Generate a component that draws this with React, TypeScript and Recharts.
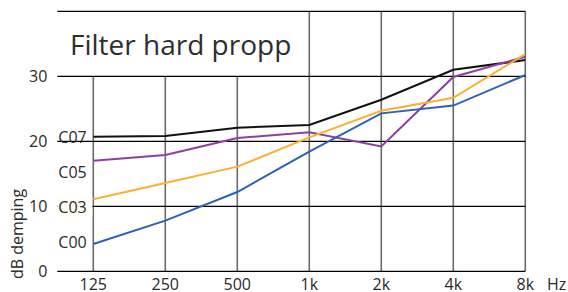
import React from 'react';
import { LineChart, Line, XAxis, YAxis, ReferenceLine } from 'recharts';

const categories = ['125', '250', '500', '1k', '2k', '4k', '8k'];
const c07 = [20.7, 20.8, 22.1, 22.5, 26.4, 31.0, 32.5];
const c05 = [17.0, 17.9, 20.5, 21.4, 19.2, 29.9, 33.0];
const c03 = [11.1, 13.6, 16.1, 20.6, 24.7, 26.7, 33.4];
const c00 = [4.2, 7.8, 12.2, 18.4, 24.3, 25.5, 30.2];
const seriesNames = ['C07', 'C05', 'C03', 'C00'];
const seriesLabelValues = [20.7, 15.3, 9.9, 4.4];
const yTicks = [0, 10, 20, 30];
const gridValues = [0, 10, 20, 30, 40];
const verticalTops = [30, 30, 30, 40, 40, 40, 40];

const colors = ['#111111', '#8e3f9f', '#fbb030', '#2b62b6'];
const FONT = '"Open Sans", sans-serif';

const data = categories.map((c, i) => ({
  i,
  name: c,
  C07: c07[i],
  C05: c05[i],
  C03: c03[i],
  C00: c00[i],
}));

const SeriesLabel = (props: any) => {
  const { viewBox, value, bg } = props;
  const x = viewBox.x;
  const y = viewBox.y;
  return (
    <g>
      {bg && <rect x={x} y={y - 10} width={35} height={20} fill="#fffdf4" />}
      <text x={x + 1} y={y} dy="0.36em" fontFamily={FONT} fontSize={16} fill="#2a2a2a">
        {value}
      </text>
    </g>
  );
};

export default function App() {
  return (
    <div style={{ position: 'absolute', left: 0, top: 0, width: 568, height: 292, background: '#fff' }}>
      <LineChart
        width={568}
        height={292}
        data={data}
        margin={{ top: 11.3, right: 42.7, bottom: 0, left: 7.3 }}
      >
        <XAxis
          dataKey="i"
          type="number"
          domain={[-0.5, 6]}
          ticks={[0, 1, 2, 3, 4, 5, 6]}
          tickFormatter={(v: number) => categories[v]}
          axisLine={false}
          tickLine={false}
          tickSize={0}
          tickMargin={7}
          height={20.7}
          tick={{ fontFamily: FONT, fontSize: 16, fill: '#2a2a2a' }}
          interval={0}
          allowDataOverflow
        />
        <YAxis
          type="number"
          domain={[0, 40]}
          ticks={yTicks}
          axisLine={false}
          tickLine={false}
          tickSize={0}
          tickMargin={10}
          width={50}
          tick={{ fontFamily: FONT, fontSize: 16, fill: '#2a2a2a' }}
          allowDataOverflow
        />
        {verticalTops.map((top, i) => (
          <ReferenceLine
            key={'v' + i}
            segment={[{ x: i, y: 0 }, { x: i, y: top }]}
            stroke="#6a6a6a"
            strokeWidth={1.6}
          />
        ))}
        {gridValues.map((v) => (
          <ReferenceLine key={'h' + v} y={v} stroke="#000" strokeWidth={1.3} />
        ))}
        {seriesNames.map((n, k) => (
          <ReferenceLine
            key={'l' + n}
            y={seriesLabelValues[k]}
            stroke="none"
            label={<SeriesLabel value={n} bg={n === 'C03'} />}
          />
        ))}
        {seriesNames.map((n, k) => (
          <Line
            key={n}
            dataKey={n}
            type="linear"
            stroke={colors[k]}
            strokeWidth={2}
            dot={false}
            activeDot={false}
            isAnimationActive={false}
          />
        ))}
        <text x={70} y={55} fontFamily={FONT} fontSize={28} fill="#2e2e2e">
          Filter hard propp
        </text>
        <text x={547} y={270.3} dy="1.2em" fontFamily={FONT} fontSize={16} fill="#2a2a2a">
          Hz
        </text>
        <text
          x={17}
          y={234}
          transform="rotate(-90 17 234)"
          textAnchor="middle"
          dominantBaseline="central"
          fontFamily={FONT}
          fontSize={16}
          fill="#2a2a2a"
        >
          dB demping
        </text>
      </LineChart>
    </div>
  );
}
